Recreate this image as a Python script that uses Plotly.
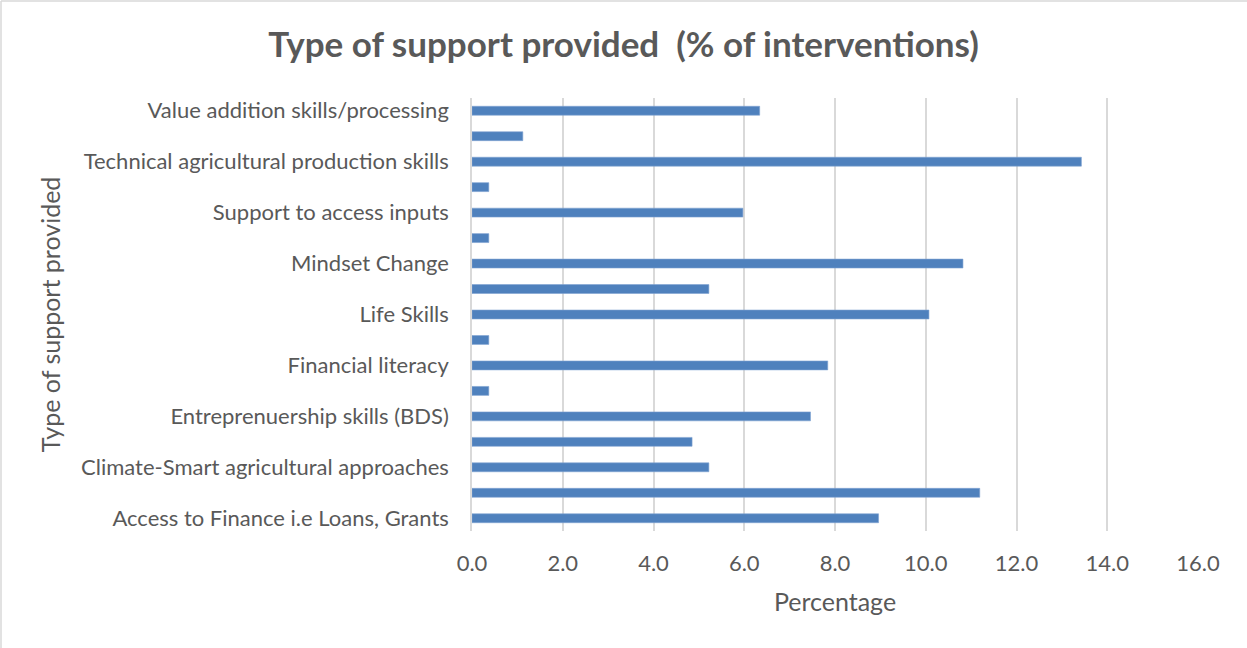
import plotly.graph_objects as go

# Share of interventions (%) by type of support, bottom to top
positions = list(range(1, 18))
values = [8.96, 11.19, 5.22, 4.85, 7.46, 0.37, 7.84, 0.37, 10.07,
          5.22, 10.82, 0.37, 5.97, 0.37, 13.43, 1.12, 6.34]

# Only every other category carries a visible label
label_positions = [1, 3, 5, 7, 9, 11, 13, 15, 17]
label_texts = [
    "Access to Finance i.e Loans, Grants",
    "Climate-Smart agricultural approaches",
    "Entreprenuership skills (BDS)",
    "Financial literacy",
    "Life Skills",
    "Mindset Change",
    "Support to access inputs",
    "Technical agricultural production skills",
    "Value addition skills/processing",
]

x_ticks = [0, 2, 4, 6, 8, 10, 12, 14, 16]
x_tick_text = [f"{v:.1f}" for v in x_ticks]

FONT = "Lato"
GREY = "#595959"

fig = go.Figure(
    go.Bar(
        x=values,
        y=positions,
        orientation="h",
        width=0.35,
        marker=dict(color="#4F81BD", line=dict(color="#7fa3d1", width=0.6)),
        hoverinfo="x",
    )
)

fig.update_layout(
    width=1247,
    height=648,
    paper_bgcolor="white",
    plot_bgcolor="white",
    margin=dict(l=472, r=49, t=98, b=117),
    showlegend=False,
    title=dict(
        text="<b>Type of support provided  (% of interventions)</b>",
        x=0.5,
        xref="container",
        xanchor="center",
        y=1 - 45 / 648,
        yref="container",
        yanchor="middle",
        font=dict(family=FONT, size=35, color=GREY),
    ),
    font=dict(family=FONT, color=GREY),
    shapes=[
        # chart-area frame (left and top edges)
        dict(type="line", xref="paper", yref="paper",
             x0=-471 / 726, x1=-471 / 726, y0=-120 / 433, y1=1 + 97 / 433,
             line=dict(color="#d9d9d9", width=1.5)),
        dict(type="line", xref="paper", yref="paper",
             x0=-471 / 726, x1=1 + 49 / 726, y0=1 + 97 / 433, y1=1 + 97 / 433,
             line=dict(color="#d9d9d9", width=1.5)),
    ],
)

fig.update_xaxes(
    range=[0, 16],
    tickvals=x_ticks,
    ticktext=x_tick_text,
    showgrid=True,
    gridcolor="#d9d9d9",
    gridwidth=1.5,
    zeroline=False,
    showline=False,
    ticks="outside",
    ticklen=13,
    tickcolor="rgba(0,0,0,0)",
    tickfont=dict(family=FONT, size=22, color=GREY),
    title=dict(text="Percentage", font=dict(family=FONT, size=25, color=GREY), standoff=18),
    fixedrange=True,
)

fig.update_yaxes(
    range=[0.5, 17.5],
    tickvals=label_positions,
    ticktext=label_texts,
    showgrid=False,
    zeroline=False,
    showline=True,
    linecolor="#d9d9d9",
    linewidth=1.5,
    ticks="outside",
    ticklen=17,
    tickcolor="rgba(0,0,0,0)",
    tickfont=dict(family=FONT, size=22, color=GREY),
    title=dict(text="Type of support provided", font=dict(family=FONT, size=25, color=GREY), standoff=13),
    fixedrange=True,
)

fig.write_html("out.html")
